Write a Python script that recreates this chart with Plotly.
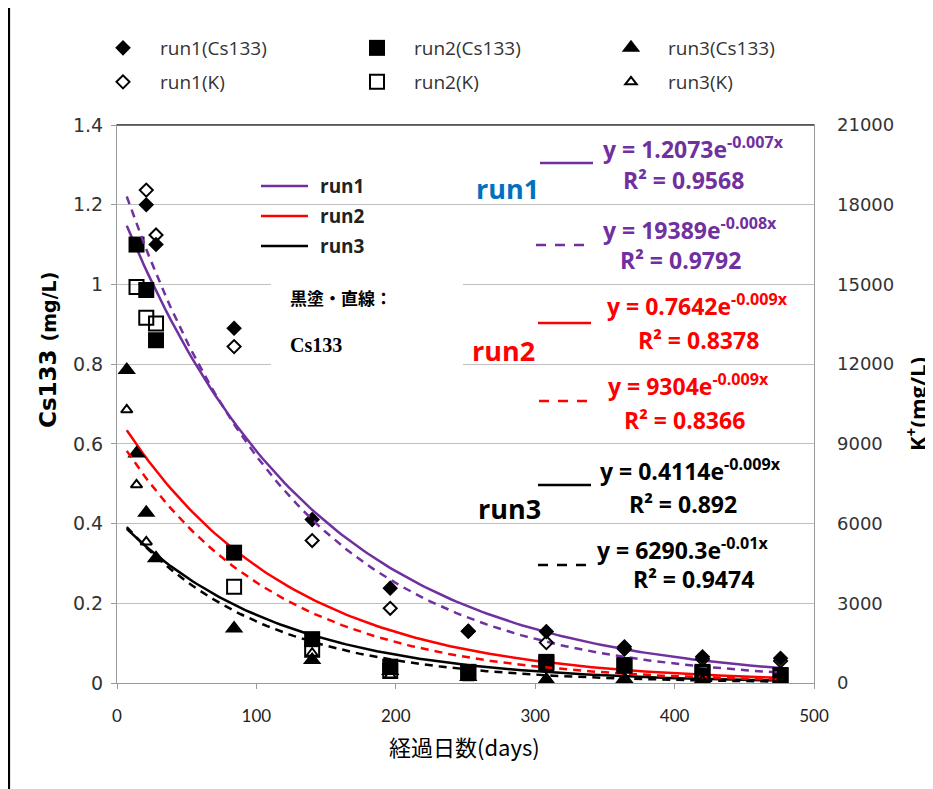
import numpy as np
import plotly.graph_objects as go

# ---------------- data ----------------
days = [7, 14, 21, 28, 84, 140, 196, 252, 308, 364, 420, 476]

# Cs133 (mg/L)
run1_cs = [None, None, 1.20, 1.10, 0.89, 0.41, 0.238, 0.130, 0.129, 0.091, 0.066, 0.062]
run2_cs = [None, 1.10, 0.986, 0.86, 0.327, 0.11, 0.041, 0.028, 0.053, 0.045, 0.028, 0.020]
run3_cs = [0.785, 0.576, 0.427, 0.313, 0.137, 0.058, 0.030, 0.015, 0.008, 0.010, 0.008, 0.006]

# K+ (mg/L)
run1_k = [None, None, 18550, 16860, 12660, 5360, 2810, 1950, 1520, 1280, 900, 830]
run2_k = [None, 14900, 13750, 13530, 3620, 1250, 450, 400, 750, 650, 380, 280]
run3_k = [10280, 7460, 5310, 4700, 2050, 1120, 300, 200, 150, 120, 100, 80]

run_names = ["run1", "run2", "run3"]
run_colors = ["#7030A0", "#FF0000", "#000000"]

# exponential trend curves  y = a * exp(-k * x)
trend_cs_a = [1.2073, 0.672, 0.4114]
trend_cs_k = [0.0073, 0.0083, 0.0088]
trend_k_a = [19389, 9304, 6290.3]
trend_k_k = [0.0082, 0.009, 0.010]
trend_range = [7, 476]

# equation labels
eq_cs = ["y = 1.2073e<sup>-0.007x</sup>", "y = 0.7642e<sup>-0.009x</sup>", "y = 0.4114e<sup>-0.009x</sup>"]
r2_cs = ["R² = 0.9568", "R² = 0.8378", "R² = 0.892"]
eq_k = ["y = 19389e<sup>-0.008x</sup>", "y = 9304e<sup>-0.009x</sup>", "y = 6290.3e<sup>-0.01x</sup>"]
r2_k = ["R² = 0.9792", "R² = 0.8366", "R² = 0.9474"]

cs_symbols = ["diamond", "square", "triangle-up"]
k_symbols = ["diamond-open", "square-open", "triangle-up-open"]
cs_sizes = [12, 16, 16]
k_sizes = [10, 14, 10]

cs_data = [run1_cs, run2_cs, run3_cs]
k_data = [run1_k, run2_k, run3_k]

# ---------------- layout geometry helpers ----------------
# page body has an 8px margin; screen coordinates below refer to the 933x789 window
OFF = 8
W, H = 933 - OFF, 789 - OFF
L, R, T, B = 117, 814, 125, 683   # plot area in screen pixels


def px(x):
    return (x - L) / (R - L)


def py(y):
    return (B - y) / (B - T)


fig = go.Figure()

tx = np.linspace(trend_range[0], trend_range[1], 150)
for i in range(3):
    fig.add_trace(go.Scatter(
        x=tx, y=trend_cs_a[i] * np.exp(-trend_cs_k[i] * tx), mode="lines",
        line=dict(color=run_colors[i], width=2.5), showlegend=False, hoverinfo="skip"))
    fig.add_trace(go.Scatter(
        x=tx, y=trend_k_a[i] * np.exp(-trend_k_k[i] * tx), mode="lines", yaxis="y2",
        line=dict(color=run_colors[i], width=2.5, dash="8px,6px"), showlegend=False, hoverinfo="skip"))

for i in range(3):
    fig.add_trace(go.Scatter(
        x=days, y=cs_data[i], mode="markers", name=f"{run_names[i]}(Cs133)",
        marker=dict(symbol=cs_symbols[i], size=cs_sizes[i], color="black", line=dict(width=0)),
        legend="legend"))
for i in range(3):
    fig.add_trace(go.Scatter(
        x=days, y=k_data[i], mode="markers", name=f"{run_names[i]}(K)", yaxis="y2",
        marker=dict(symbol=k_symbols[i], size=k_sizes[i], color="black", line=dict(width=2)),
        legend="legend2"))

shapes = []
annotations = []

# figure left border
shapes.append(dict(type="line", xref="paper", yref="paper", x0=px(9), x1=px(9), y0=py(0), y1=py(789),
                   line=dict(color="black", width=2.2)))
# darker top border of plot area
shapes.append(dict(type="line", xref="paper", yref="paper", x0=0, x1=1, y0=1, y1=1,
                   line=dict(color="#404040", width=1.5)))
# white note box
shapes.append(dict(type="rect", xref="paper", yref="paper", x0=px(271), x1=px(463), y0=py(385), y1=py(262),
                   fillcolor="white", line=dict(width=0), layer="above"))

# inner legend (lines)
inner_y = [186, 216, 246]
for i in range(3):
    shapes.append(dict(type="line", xref="paper", yref="paper", x0=px(261), x1=px(308),
                       y0=py(inner_y[i]), y1=py(inner_y[i]), line=dict(color=run_colors[i], width=2.5)))
    annotations.append(dict(xref="paper", yref="paper", x=px(318), y=py(inner_y[i]), xanchor="left",
                            yanchor="middle", showarrow=False, text=f"<b>{run_names[i]}</b>",
                            font=dict(family="Open Sans", size=19, color="#222222")))

annotations.append(dict(xref="paper", yref="paper", x=px(288), y=py(297), xanchor="left", yanchor="middle",
                        showarrow=False, text="<b>黒塗・直線：</b>",
                        font=dict(family="Noto Sans CJK JP", size=17, color="black")))
annotations.append(dict(xref="paper", yref="paper", x=px(288), y=py(345), xanchor="left", yanchor="middle",
                        showarrow=False, text="<b>Cs133</b>",
                        font=dict(family="Liberation Serif", size=20, color="black")))

# equation labels on right
eq_cs_y = [148, 305, 470]
r2_cs_y = [180, 340, 504]
eq_k_y = [229, 385, 549]
r2_k_y = [260, 420, 579]
eq_cs_x = [693, 697, 690]
r2_cs_x = [683, 698, 683]
eq_k_x = [690, 688, 682]
r2_k_x = [680, 684, 693]
seg_cs_y = [163, 323, 485]
seg_k_y = [245, 401, 565]
seg_cs_x = [540, 538, 538]
seg_k_x = [536, 539, 538]
run_lbl_x = [507, 504, 509]
run_lbl_y = [188, 350, 508]
run_lbl_color = ["#0070C0", "#FF0000", "#000000"]

for i in range(3):
    c = run_colors[i]
    for (xx, yy, txt) in [(eq_cs_x[i], eq_cs_y[i], eq_cs[i]), (r2_cs_x[i], r2_cs_y[i], r2_cs[i]),
                          (eq_k_x[i], eq_k_y[i], eq_k[i]), (r2_k_x[i], r2_k_y[i], r2_k[i])]:
        annotations.append(dict(xref="paper", yref="paper", x=px(xx), y=py(yy), showarrow=False,
                                xanchor="center", yanchor="middle", text=f"<b>{txt}</b>",
                                font=dict(family="Open Sans", size=23, color=c)))
    annotations.append(dict(xref="paper", yref="paper", x=px(run_lbl_x[i]), y=py(run_lbl_y[i]), showarrow=False,
                            xanchor="center", yanchor="middle", text=f"<b>{run_names[i]}</b>",
                            font=dict(family="Open Sans", size=27, color=run_lbl_color[i])))
    shapes.append(dict(type="line", xref="paper", yref="paper", x0=px(seg_cs_x[i]), x1=px(seg_cs_x[i] + 53),
                       y0=py(seg_cs_y[i]), y1=py(seg_cs_y[i]), line=dict(color=c, width=2.5)))
    shapes.append(dict(type="line", xref="paper", yref="paper", x0=px(seg_k_x[i]), x1=px(seg_k_x[i] + 55),
                       y0=py(seg_k_y[i]), y1=py(seg_k_y[i]), line=dict(color=c, width=2.5, dash="10px,9px")))

# axis titles
annotations.append(dict(xref="paper", yref="paper", x=px(48), y=py(350), textangle=-90, showarrow=False,
                        xanchor="center", yanchor="middle",
                        text="<b>Cs133 <span style='font-size:19px'>(mg/L)</span></b>",
                        font=dict(family="DejaVu Sans", size=23, color="black")))
annotations.append(dict(xref="paper", yref="paper", x=px(916), y=py(404), textangle=-90, showarrow=False,
                        xanchor="center", yanchor="middle",
                        text="<b>K<sup>+</sup>(mg/L)</b>",
                        font=dict(family="Open Sans", size=22, color="black")))
annotations.append(dict(xref="paper", yref="paper", x=px(464), y=py(746), showarrow=False,
                        xanchor="center", yanchor="middle",
                        text="経過日数(days)",
                        font=dict(family="Noto Sans CJK JP", size=22, color="black")))

legend_common = dict(orientation="h", xanchor="left", yanchor="middle",
                     entrywidth=175, entrywidthmode="pixels", itemwidth=64, bgcolor="rgba(0,0,0,0)",
                     font=dict(family="Open Sans", size=19, color="#333333"))

fig.update_layout(
    width=W, height=H,
    margin=dict(l=L - OFF, r=W - (R - OFF), t=T - OFF, b=H - (B - OFF), autoexpand=False),
    paper_bgcolor="white", plot_bgcolor="white",
    xaxis=dict(range=[0, 500], dtick=100, showgrid=False, zeroline=False, showline=True, mirror=True,
               linecolor="#9A9A9A", linewidth=1.2, ticks="outside", ticklen=5, tickcolor="#9A9A9A",
               ticklabelstandoff=12, tickfont=dict(family="Lato", size=17, color="#222222")),
    yaxis=dict(range=[0, 1.4], dtick=0.2, showgrid=True, gridcolor="#BFBFBF", gridwidth=1.2, zeroline=False,
               showline=True, mirror=True, linecolor="#9A9A9A", linewidth=1.2, ticks="outside", ticklen=5,
               tickcolor="#9A9A9A", ticklabelstandoff=4,
               tickfont=dict(family="DejaVu Sans", size=19, color="#333333")),
    yaxis2=dict(range=[0, 21000], dtick=3000, overlaying="y", side="right", showgrid=False, zeroline=False,
                showline=False, tickformat="d", ticks="", ticklabelstandoff=22,
                tickfont=dict(family="DejaVu Sans", size=18, color="#333333")),
    legend=dict(x=px(86), y=py(48), **legend_common),
    legend2=dict(x=px(86), y=py(82), **legend_common),
    shapes=shapes,
    annotations=annotations,
)

fig.write_html("out.html")
